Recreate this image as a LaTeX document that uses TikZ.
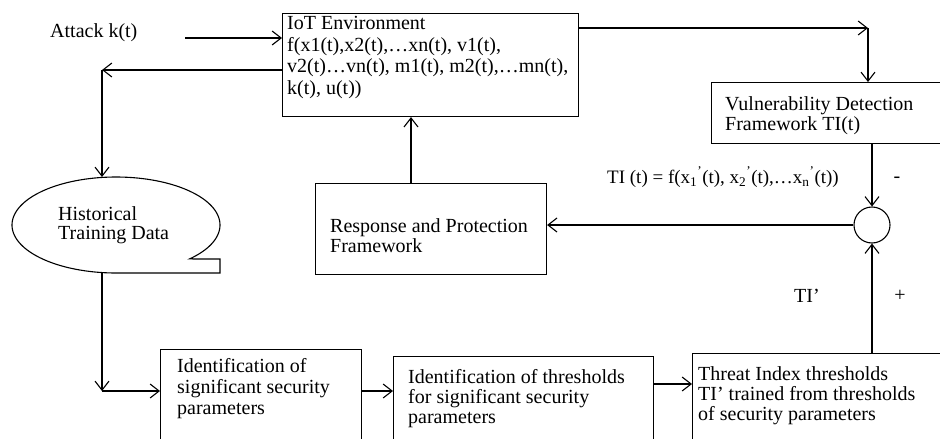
\documentclass[tikz,border=0pt]{standalone}
\usepackage{fontspec}
\setmainfont{Liberation Serif}
\usetikzlibrary{arrows.meta}
\begin{document}
\begin{tikzpicture}[x=1pt,y=-1pt,
  >={Straight Barb[length=9pt,width=14pt]},
  box/.style={draw, line width=1.1pt, rectangle, inner sep=0pt, anchor=north west},
  txt/.style={font=\fontsize{20}{21}\selectfont, align=left, inner sep=0pt, anchor=north west},
  lbl/.style={font=\fontsize{20}{21}\selectfont, inner sep=0pt},
  conn/.style={->, line width=1.1pt}]
\useasboundingbox (0,0) rectangle (940,439);
\fill[white] (0,0) rectangle (940,439);
\begin{scope}
\clip (0,0) rectangle (940,439);
% boxes
\node[box, minimum width=296pt, minimum height=103pt] (iot) at (282,13) {};
\node[box, minimum width=260pt, minimum height=61pt] (vuln) at (711,82) {};
\node[box, minimum width=231pt, minimum height=91pt] (resp) at (315,183) {};
\node[box, minimum width=201pt, minimum height=100pt] (b1) at (160,349) {};
\node[box, minimum width=260pt, minimum height=100pt] (b2) at (393,356) {};
\node[box, minimum width=270pt, minimum height=100pt] (b3) at (692,353) {};
\node[draw, line width=1.1pt, circle, minimum size=36pt, inner sep=0pt] (sum) at (872,225) {};
% storage shape
\draw[line width=1.1pt, domain=45:-270, samples=140, variable=\t]
  (220,273) -- (220,259) -- plot ({116+104*cos(\t)},{225+48*sin(\t)}) -- cycle;
\coordinate (histtop) at (102,177);
\coordinate (histbot) at (102,273);
% texts
\node[lbl, anchor=west] (attack) at (50,33) {Attack k(t)};
\node[txt, font=\fontsize{20}{21.7}\selectfont] (iottxt) at (287,16) {IoT Environment\\f(x1(t),x2(t),…xn(t), v1(t),\\v2(t)…vn(t), m1(t), m2(t),…mn(t),\\k(t), u(t))};
\node[txt, font=\fontsize{20}{20}\selectfont] (vulntxt) at (725,96) {Vulnerability Detection\\Framework TI(t)};
\node[txt, font=\fontsize{20}{20}\selectfont] (resptxt) at (330,218) {Response and Protection\\Framework};
\node[txt, font=\fontsize{20}{19}\selectfont] (histtxt) at (58,206) {Historical\\Training Data};
\node[txt] (b1txt) at (177,358) {Identification of\\significant security\\parameters};
\node[txt, font=\fontsize{20}{20}\selectfont] (b2txt) at (408,369) {Identification of thresholds\\for significant security\\parameters};
\node[txt, font=\fontsize{20}{20}\selectfont] (b3txt) at (698,366) {Threat Index thresholds\\TI’ trained from thresholds\\of security parameters};
\node[lbl, anchor=west, font=\fontsize{19}{21}\selectfont] (formula) at (607,177) {TI (t) = f(x\textsubscript{1}\raisebox{0.25ex}{\textsuperscript{’}}(t), x\textsubscript{2}\raisebox{0.25ex}{\textsuperscript{’}}(t),…x\textsubscript{n}\raisebox{0.25ex}{\textsuperscript{’}}(t))};
\node[lbl] (minus) at (897,180) {-};
\node[lbl] (plus) at (900,296) {+};
\node[lbl] (tip) at (807,296) {TI’};
% connectors
\coordinate (attackend) at (185,38);
\draw[conn] (attackend) -- (attackend -| iot.west);
\coordinate (c1) at (102,70);
\draw[conn] (c1 -| iot.west) -- (c1);
\draw[conn] (c1) -- (histtop);
\coordinate (c2) at (868,28);
\draw[conn] (c2 -| iot.east) -- (c2);
\draw[conn] (c2) -- (c2 |- vuln.north);
\draw[conn] (sum.north |- vuln.south) -- (sum.north);
\draw[conn] (sum.west) -- (sum.west -| resp.east);
\draw[conn] (resp.north -| 411,0) -- (iot.south -| 411,0);
\coordinate (c3) at (102,391);
\draw[conn] (histbot) -- (c3);
\draw[conn] (c3) -- (c3 -| b1.west);
\coordinate (c4) at (0,391);
\draw[conn] (c4 -| b1.east) -- (c4 -| b2.west);
\coordinate (c5) at (0,384);
\draw[conn] (c5 -| b2.east) -- (c5 -| b3.west);
\draw[conn] (sum.south |- b3.north) -- (sum.south);
\end{scope}
\end{tikzpicture}
\end{document}
